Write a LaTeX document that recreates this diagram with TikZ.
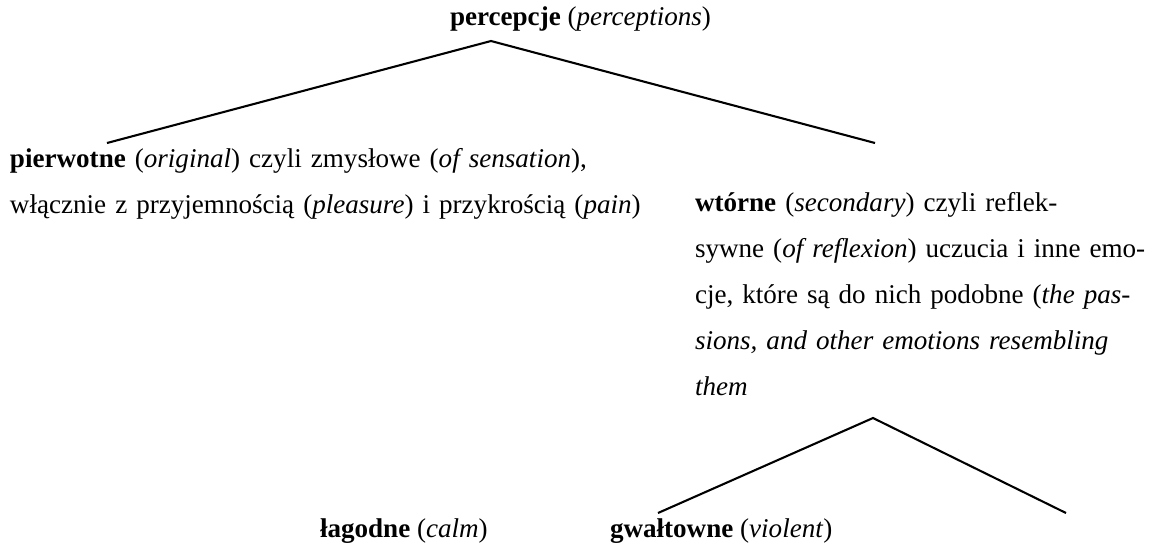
\documentclass[tikz,border=0pt]{standalone}
\usepackage{fontspec}
\setmainfont{Liberation Serif}
\usepackage{tikz}
\usetikzlibrary{positioning}
\newlength\colw
\setlength\colw{218.4pt}

\begin{document}
\begin{tikzpicture}[x=0.48pt, y=-0.48pt,
  label/.style={inner sep=0pt, outer sep=0pt, anchor=base west, font=\fontsize{13}{22.08}\selectfont},
  branch/.style={line width=1pt, black}]
\useasboundingbox (0,0) rectangle (1159,542);
\node[label] (perc) at (450,25) {\textbf{percepcje} (\textit{perceptions})};
\node[label, text width=320pt, align=left] (orig) at (10,167) {\textbf{pierwotne} (\textit{original}) czyli zmysłowe (\textit{of sensation}),\\
włącznie z przyjemnością (\textit{pleasure}) i przykrością (\textit{pain})};
\node[label, text width=\colw, align=left] (sec) at (695,211) {\makebox[\colw][s]{\mbox{\textbf{wtórne} (\textit{secondary})} czyli reflek-}\\
\makebox[\colw][s]{sywne (\textit{of reflexion}) uczucia i inne emo-}\\
\makebox[\colw][s]{cje, które są do nich podobne (\textit{the pas-}}\\
\makebox[\colw][s]{\textit{sions, and other emotions resembling}}\\
\textit{them}};
\node[label] (calm) at (320,537) {\textbf{łagodne} (\textit{calm})};
\node[label] (viol) at (610,537) {\textbf{gwałtowne} (\textit{violent})};
\coordinate (percTip) at (491,41);
\coordinate (origTip) at (107,143);
\coordinate (secTip) at (875,143);
\coordinate (secFoot) at (873,418);
\coordinate (calmTip) at (658,513);
\coordinate (violTip) at (1066,513);
\draw[branch] (origTip) -- (percTip) -- (secTip);
\draw[branch] (calmTip) -- (secFoot) -- (violTip);
\end{tikzpicture}
\end{document}
